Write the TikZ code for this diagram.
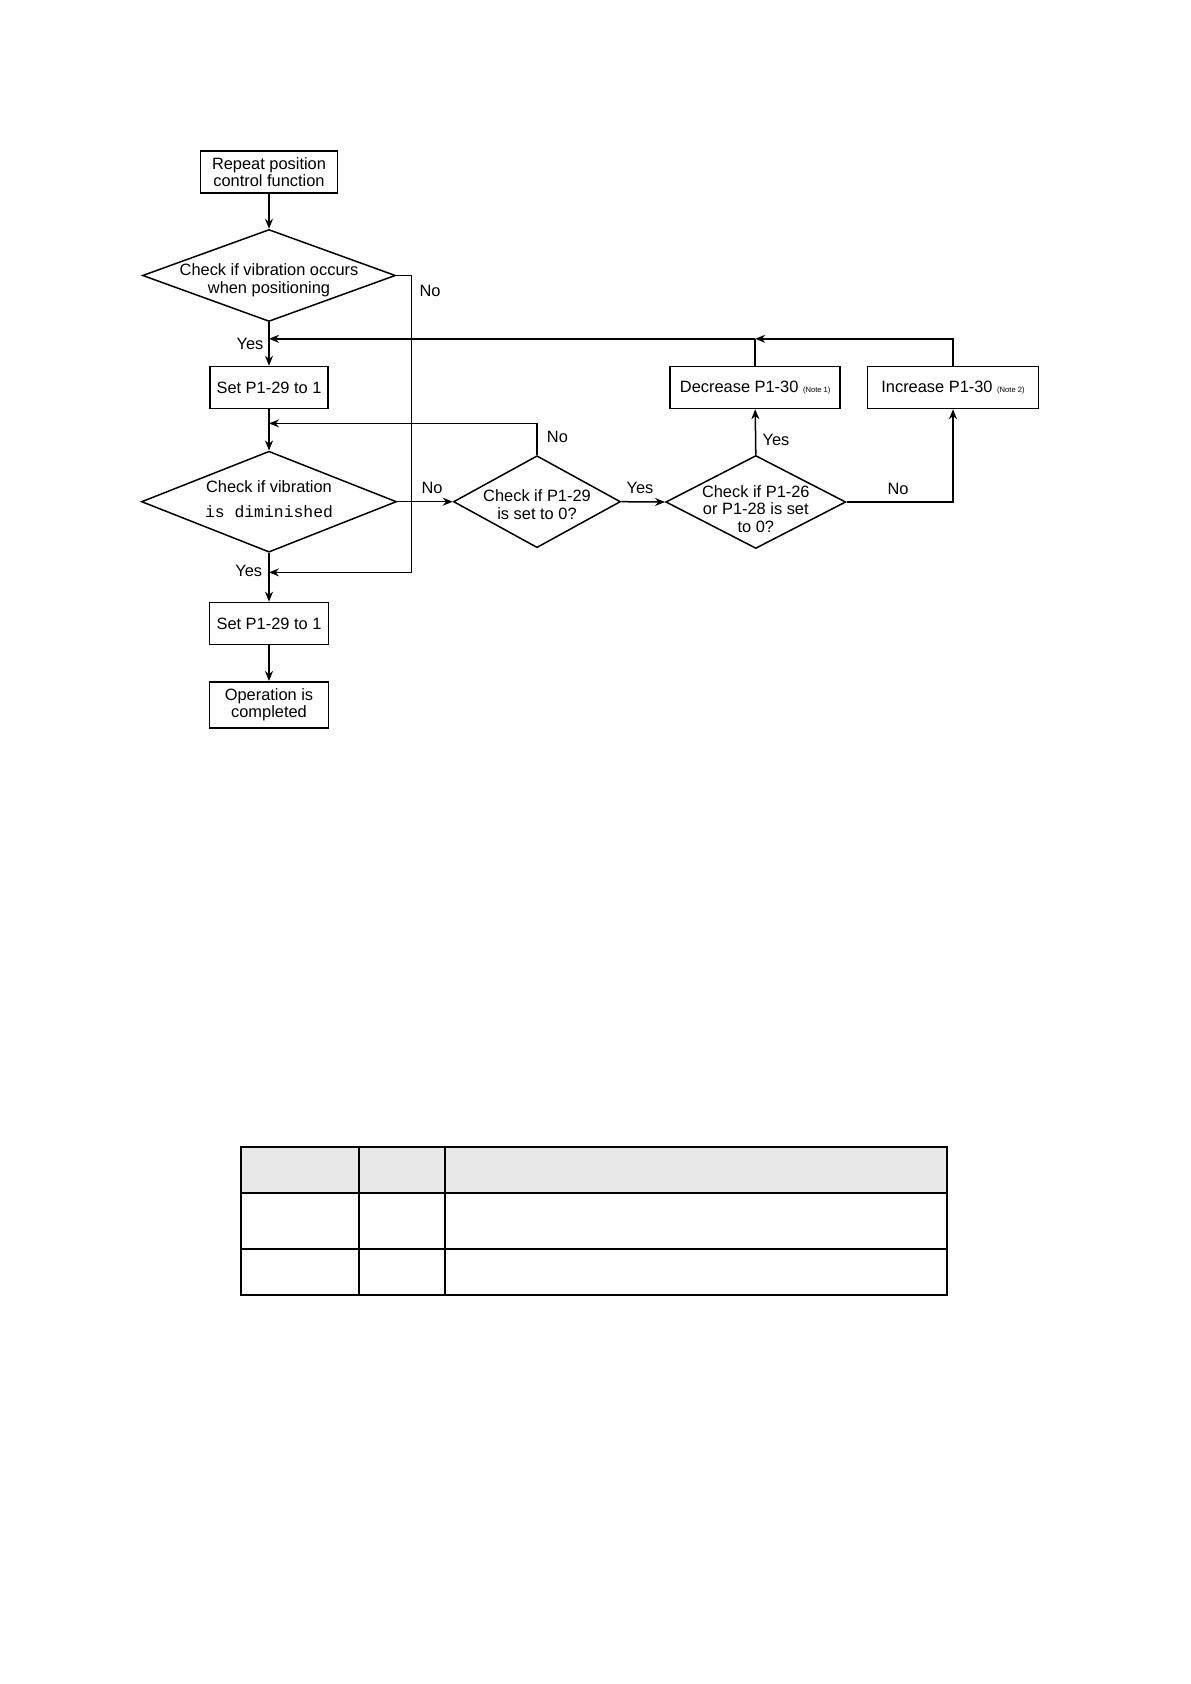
\documentclass[tikz,border=0pt]{standalone}
\usepackage{fontspec}
\setmainfont{Liberation Sans}
\setmonofont{Liberation Mono}
\usetikzlibrary{shapes.geometric,arrows.meta}
\begin{document}
\begin{tikzpicture}[x=0.5pt,y=-0.5pt,
  line width=0.75pt,
  font=\fontsize{8.2}{8.8}\selectfont,
  flowbox/.style={draw,rectangle,align=center,inner sep=1pt},
  dia/.style={draw,diamond,inner sep=0pt},
  diatext/.style={align=center,inner sep=0pt},
  lbl/.style={inner sep=0pt},
  arr/.style={-{Stealth[length=5pt,width=4pt]}}
]
\useasboundingbox[fill=white] (0,0) rectangle (1190,1684);

% boxes
\node[flowbox,minimum width=68.5pt,minimum height=21pt] (start) at (269,172) {Repeat position\\control function};
\node[flowbox,minimum width=59pt,minimum height=21pt] (set1) at (269,387.5) {Set P1-29 to 1};
\node[flowbox,minimum width=59.5pt,minimum height=21pt] (set2) at (269,623.4) {Set P1-29 to 1};
\node[flowbox,minimum width=59.5pt,minimum height=23pt] (op) at (269,704.8) {Operation is\\completed};
\node[flowbox,minimum width=85pt,minimum height=21pt] (dec) at (755.2,387.5) {Decrease P1-30 {\fontsize{3.8}{4}\selectfont (Note 1)}};
\node[flowbox,minimum width=85.3pt,minimum height=21pt] (inc) at (953,387.5) {Increase P1-30 {\fontsize{3.8}{4}\selectfont (Note 2)}};

% diamonds
\node[dia,minimum width=126.5pt,minimum height=46pt] (d1) at (269,275.5) {};
\node[diatext] (t1) at (269,280) {Check if vibration occurs\\when positioning};
\node[dia,minimum width=127.5pt,minimum height=50.5pt] (d2) at (269,501.7) {};
\node[diatext] (t2) at (269,499) {Check if vibration\\[3.5pt]{\ttfamily is diminished}};
\node[dia,minimum width=83.5pt,minimum height=46pt] (d3) at (537,501.7) {};
\node[diatext] (t3) at (537,504.5) {Check if P1-29\\is set to 0?};
\node[dia,minimum width=90pt,minimum height=46.5pt] (d4) at (755.8,502) {};
\node[diatext] (t4) at (755.8,509) {Check if P1-26\\or P1-28 is set\\to 0?};

% junction coordinates
\coordinate (jtop) at (269,338.8);
\coordinate (jdec) at (755.2,338.8);
\coordinate (jloop) at (269,423.4);
\coordinate (d3up) at (537,423.4);
\coordinate (byr1) at (411.6,275.5);
\coordinate (byr2) at (411.6,572.4);
\coordinate (jbot) at (269,572.4);

% connectors
\draw[arr] (start.south) -- (d1.north);
\draw[arr] (d1.south) -- (set1.north);
\draw[arr] (set1.south) -- (d2.north);
\draw[arr] (d2.south) -- (set2.north);
\draw[arr] (set2.south) -- (op.north);
\draw (d1.east) -- (byr1) -- (byr2);
\draw[arr] (byr2) -- (jbot);
\draw[arr] (d2.east) -- (d3.west);
\draw (d3.north) -- (d3up);
\draw[arr] (d3up) -- (jloop);
\draw[arr] (d3.east) -- (d4.west);
\draw[arr] (d4.north) -- (dec.south);
\draw[arr] (d4.east) -| (inc.south);
\draw[arr] (inc.north) |- (jdec);
\draw (dec.north) -- (jdec);
\draw[arr] (jdec) -- (jtop);

% labels
\node[lbl] (lno1) at (430,290.5) {No};
\node[lbl] (lyes1) at (250,344) {Yes};
\node[lbl] (lno2) at (432,488) {No};
\node[lbl] (lno3) at (557.4,437.4) {No};
\node[lbl] (lyes2) at (640,488) {Yes};
\node[lbl] (lyes3) at (776,439.5) {Yes};
\node[lbl] (lno4) at (898,489) {No};
\node[lbl] (lyes4) at (248.7,571.4) {Yes};

% table
\begin{scope}[line width=0.9pt]
\fill[black!9] (241.2,1147) rectangle (946.6,1193);
\draw (241.2,1147) rectangle (946.6,1295);
\draw (241.2,1193) -- (946.6,1193);
\draw (241.2,1249) -- (946.6,1249);
\draw (359.1,1147) -- (359.1,1295);
\draw (444.9,1147) -- (444.9,1295);
\end{scope}
\end{tikzpicture}
\end{document}
